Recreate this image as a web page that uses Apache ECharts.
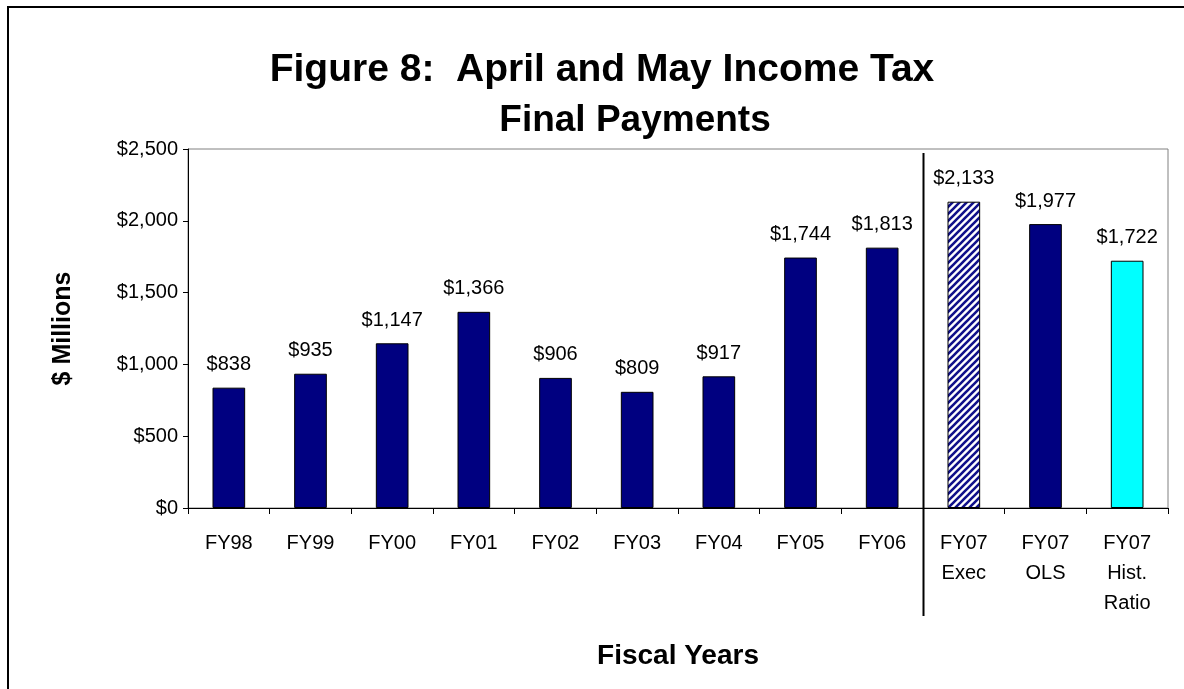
<!DOCTYPE html>
<html>
<head>
<meta charset="utf-8">
<script src="https://cdn.jsdelivr.net/npm/echarts@6/dist/echarts.min.js"></script>
<style>
  html, body { margin: 0; padding: 0; background: #fff; }
  #chart { width: 1184px; height: 689px; }
</style>
</head>
<body>
<div id="chart"></div>
<script>
// Fiscal years and April+May final payments, $ millions
const categories = ['FY98', 'FY99', 'FY00', 'FY01', 'FY02', 'FY03', 'FY04', 'FY05', 'FY06',
                    'FY07\nExec', 'FY07\nOLS', 'FY07\nHist.\nRatio'];
const payments = [838, 935, 1147, 1366, 906, 809, 917, 1744, 1813, 2133, 1977, 1722];
// Bar fill kind per category: actuals, executive estimate (hatched), OLS, historical ratio
const fillKinds = ['actual', 'actual', 'actual', 'actual', 'actual', 'actual', 'actual', 'actual', 'actual',
                   'hatch', 'actual', 'ratio'];
const yTicks = [0, 500, 1000, 1500, 2000, 2500];

const FONT = '"Liberation Sans", Arial, sans-serif';

// Diagonal navy hatching for the executive estimate bar
function hatchPattern() {
  const s = 7;
  const c = document.createElement('canvas');
  c.width = s; c.height = s;
  const g = c.getContext('2d');
  g.fillStyle = '#ffffff';
  g.fillRect(0, 0, s, s);
  g.strokeStyle = '#10108a';
  g.lineWidth = 2.6;
  g.beginPath();
  g.moveTo(-1, s + 1); g.lineTo(s + 1, -1);
  g.moveTo(-1, 1); g.lineTo(1, -1);
  g.moveTo(s - 1, s + 1); g.lineTo(s + 1, s - 1);
  g.stroke();
  return { image: c, repeat: 'repeat' };
}

const fills = {
  actual: '#000080',
  hatch: hatchPattern(),
  ratio: '#00ffff'
};

function money(v) {
  return '$' + v.toLocaleString('en-US');
}

const chart = echarts.init(document.getElementById('chart'), null, { renderer: 'canvas' });

const option = {
  animation: false,
  backgroundColor: '#ffffff',
  textStyle: { fontFamily: FONT },
  grid: {
    left: 188, top: 149, right: 16, bottom: 181,
    show: true, borderColor: '#808080', borderWidth: 1, backgroundColor: 'transparent'
  },
  xAxis: {
    type: 'category',
    data: categories,
    boundaryGap: true,
    name: 'Fiscal Years',
    nameLocation: 'middle',
    nameGap: 134,
    nameTextStyle: { fontFamily: FONT, fontSize: 28, fontWeight: 'bold', color: '#000' },
    axisLine: { lineStyle: { color: '#000', width: 1 } },
    axisTick: { show: true, inside: false, length: 6, alignWithLabel: false, lineStyle: { color: '#000' } },
    axisLabel: { fontFamily: FONT, fontSize: 20, color: '#000', margin: 20, lineHeight: 30, interval: 0 },
    splitLine: { show: false }
  },
  yAxis: {
    type: 'value',
    min: yTicks[0],
    max: yTicks[yTicks.length - 1],
    interval: yTicks[1] - yTicks[0],
    name: '$ Millions',
    nameLocation: 'middle',
    nameGap: 112,
    nameTextStyle: { fontFamily: FONT, fontSize: 25, fontWeight: 'bold', color: '#000' },
    axisLine: { show: true, lineStyle: { color: '#000', width: 1 } },
    axisTick: { show: true, length: 5, lineStyle: { color: '#000' } },
    axisLabel: { fontFamily: FONT, fontSize: 20, color: '#000', margin: 10, formatter: money },
    splitLine: { show: false }
  },
  series: [{
    type: 'bar',
    barWidth: '40%',
    data: payments.map((v, i) => ({
      value: v,
      itemStyle: { color: fills[fillKinds[i]], borderColor: '#000', borderWidth: 1 }
    })),
    label: {
      show: true,
      position: 'top',
      distance: 13,
      fontFamily: FONT,
      fontSize: 20,
      color: '#000',
      formatter: p => money(p.value)
    }
  }]
};

chart.setOption(option);

// Separator between actual years and FY07 estimates, plus title and frame
const xLeft = chart.convertToPixel({ xAxisIndex: 0 }, 8);
const xRight = chart.convertToPixel({ xAxisIndex: 0 }, 9);
const sepX = Math.round((xLeft + xRight) / 2) + 0.5;
const yTopPx = chart.convertToPixel({ yAxisIndex: 0 }, yTicks[yTicks.length - 1]);
const yBasePx = chart.convertToPixel({ yAxisIndex: 0 }, yTicks[0]);

chart.setOption({
  graphic: [
    {
      type: 'rect',
      shape: { x: 8, y: 7, width: 1200, height: 700 },
      style: { fill: 'none', stroke: '#000', lineWidth: 2 },
      silent: true
    },
    {
      type: 'line',
      shape: { x1: sepX, y1: yTopPx + 4, x2: sepX, y2: yBasePx + 108 },
      style: { stroke: '#000', lineWidth: 2 },
      z: 10
    },
    {
      type: 'text',
      x: 602, y: 70,
      style: {
        text: 'Figure 8:  April and May Income Tax',
        fontFamily: FONT, fontSize: 39, fontWeight: 'bold', fill: '#000',
        align: 'center', verticalAlign: 'middle'
      }
    },
    {
      type: 'text',
      x: 635, y: 121,
      style: {
        text: 'Final Payments',
        fontFamily: FONT, fontSize: 37, fontWeight: 'bold', fill: '#000',
        align: 'center', verticalAlign: 'middle'
      }
    }
  ]
});
</script>
</body>
</html>
